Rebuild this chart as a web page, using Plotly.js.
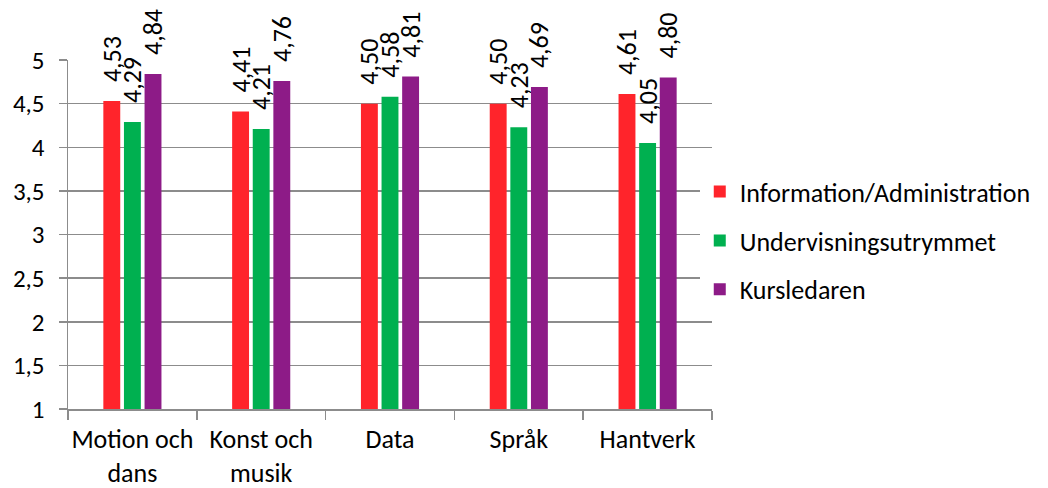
<!DOCTYPE html>
<html>
<head>
<meta charset="utf-8">
<script src="https://cdn.plot.ly/plotly-3.0.1.min.js"></script>
<style>html,body{margin:0;padding:0;background:#fff;}#chart{width:1048px;height:488px;}</style>
</head>
<body>
<div id="chart"></div>
<script>
const categories = ["Motion och<br>dans", "Konst och<br>musik", "Data", "Språk", "Hantverk"];
const seriesNames = ["Information/Administration", "Undervisningsutrymmet", "Kursledaren"];
const infoAdmin = [4.53, 4.41, 4.50, 4.50, 4.61];
const undervisning = [4.29, 4.21, 4.58, 4.23, 4.05];
const kursledaren = [4.84, 4.76, 4.81, 4.69, 4.80];
const yTicks = [1, 1.5, 2, 2.5, 3, 3.5, 4, 4.5, 5];
const yTickLabels = ["1", "1,5", "2", "2,5", "3", "3,5", "4", "4,5", "5"];

const colors = ["#ff242b", "#00b050", "#8d1b87"];
const FONT = "Carlito, Calibri, Lato, 'Open Sans', sans-serif";
const values = [infoAdmin, undervisning, kursledaren];

const traces = values.map((v, i) => ({
  type: "bar",
  name: seriesNames[i],
  x: categories,
  y: v,
  marker: {color: colors[i]},
  text: v.map(n => "<span style='color:rgba(0,0,0,0)'>--</span>" + n.toFixed(2).replace(".", ",")),
  texttemplate: "%{text}",
  textposition: "outside",
  textangle: -90,
  constraintext: "none",
  cliponaxis: false,
  textfont: {family: FONT, size: 26, color: "#000"},
  legendgroup: "g" + i,
  hoverinfo: "skip"
}));

const layout = {
  width: 1048, height: 488,
  margin: {l: 68, r: 336, t: 60, b: 79, autoexpand: false},
  paper_bgcolor: "#fff", plot_bgcolor: "#fff",
  font: {family: FONT, size: 25, color: "#000"},
  barmode: "group",
  bargap: 0.52,
  bargroupgap: 0.18,
  showlegend: true,
  legend: {
    x: 0.981, xanchor: "left", y: 0.69, yanchor: "top",
    font: {family: FONT, size: 26, color: "#000"},
    traceorder: "grouped", tracegroupgap: 12,
    itemwidth: 30
  },
  xaxis: {
    showline: true, linecolor: "#8c8c8c", linewidth: 1.5,
    ticks: "outside", tickson: "boundaries", ticklen: 9, tickcolor: "#8c8c8c", tickwidth: 1.5,
    tickfont: {family: FONT, size: 26, color: "#000"},
    tickangle: 0,
    ticklabelstandoff: 6,
    showgrid: false, fixedrange: true
  },
  yaxis: {
    range: [1, 5],
    tickvals: yTicks, ticktext: yTickLabels,
    showline: true, linecolor: "#8c8c8c", linewidth: 1.5,
    ticks: "outside", ticklen: 8, tickcolor: "#8c8c8c", tickwidth: 1.5,
    showgrid: true, gridcolor: "#8c8c8c", gridwidth: 1.5,
    zeroline: false,
    ticklabelstandoff: 9,
    tickfont: {family: FONT, size: 25, color: "#000"},
    fixedrange: true
  }
};

Plotly.newPlot("chart", traces, layout, {displayModeBar: false, staticPlot: true});
</script>
</body>
</html>
